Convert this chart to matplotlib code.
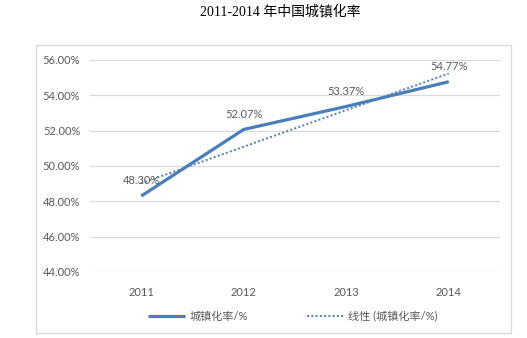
import numpy as np
import matplotlib.pyplot as plt
from matplotlib.patches import Rectangle
from matplotlib.ticker import FuncFormatter

plt.rcParams['font.family'] = ['Lato', 'Noto Sans CJK SC', 'DejaVu Sans']

years = ['2011', '2012', '2013', '2014']
rate = [48.30, 52.07, 53.37, 54.77]
series_name = '城镇化率/%'
trend_name = '线性 (城镇化率/%)'
title = '2011-2014 年中国城镇化率'

blue = '#4A7EBB'
grey = '#595959'

fig = plt.figure(figsize=(5.27, 3.38), dpi=100)
fig.patch.set_facecolor('white')

# chart frame
fig.patches.append(Rectangle((36 / 527, 1 - 333 / 338), 475 / 527, 288 / 338,
                             transform=fig.transFigure, fill=False,
                             ec='#D9D9D9', lw=1.0))

ax = fig.add_axes([90 / 527, 1 - 272 / 338, 410 / 527, 212 / 338])
x = np.arange(len(years))

ax.plot(x, rate, color=blue, lw=2.3, solid_capstyle='butt', label=series_name)

# linear trend over the same points
k, b = np.polyfit(x, rate, 1)
ax.plot(x, k * x + b, color=blue, lw=1.4, ls=(0, (1, 1.2)), label=trend_name)

for xi, v in zip(x, rate):
    ax.annotate(f'{v:.2f}%', (xi, v), xytext=(0, 7), textcoords='offset points',
                ha='center', va='bottom', fontsize=8, color=grey)

ax.set_xlim(-0.5, 3.5)
ax.set_ylim(44, 56)
ax.set_yticks(np.arange(44, 56.1, 2))
ax.yaxis.set_major_formatter(FuncFormatter(lambda v, p: f'{v:.2f}%'))
ax.set_xticks(x)
ax.set_xticklabels(years)
ax.tick_params(length=0, labelsize=8, labelcolor=grey)
ax.tick_params(axis='y', pad=7)
ax.tick_params(axis='x', pad=11)
ax.grid(axis='y', color='#D9D9D9', lw=0.9)
ax.set_axisbelow(True)
for s in ax.spines.values():
    s.set_visible(False)

leg = ax.legend(loc='upper center', bbox_to_anchor=(0.495, -0.135), ncol=2,
                frameon=False, fontsize=8, handlelength=3.3, columnspacing=5.3,
                handletextpad=0.45)
for t in leg.get_texts():
    t.set_color(grey)

fig.text(0.532, 1 - 12 / 338, title, ha='center', va='center', fontsize=10,
         family=['Liberation Serif', 'Noto Sans CJK SC'])

fig.savefig('out.png', dpi=100, facecolor='white')
